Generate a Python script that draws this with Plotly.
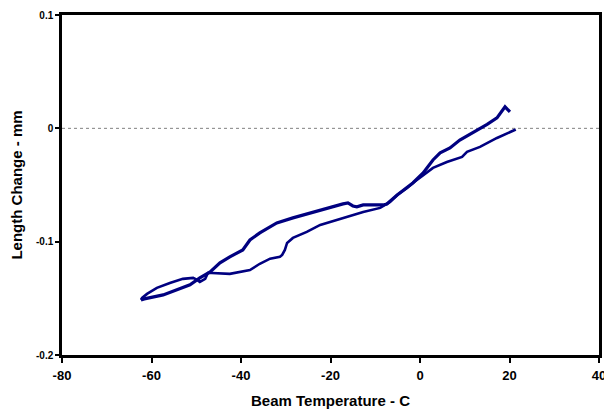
import plotly.graph_objects as go

# Cooling branch: from ~21 C down to the cold tip
cool_temp = [21.4, 17.2, 13.4, 10.5, 9.4, 6.0, 2.9, 0.7, -1.6, -2.9, -5.1, -6.7, -8.9,
             -12.7, -16.3, -20.1, -22.3, -25.3, -28.4, -29.7, -30.2, -30.8, -31.3,
             -33.5, -35.8, -38.0, -42.5, -46.5, -47.4, -48.0, -49.2, -49.8, -50.7,
             -53.0, -55.9, -58.8, -61.0, -62.1, -62.35]
cool_len = [-0.001, -0.0085, -0.0164, -0.0208, -0.0252, -0.0297, -0.0349, -0.0411,
            -0.0482, -0.0526, -0.0588, -0.0649, -0.0702,
            -0.0738, -0.0782, -0.0826, -0.0852, -0.0914, -0.0967, -0.1011, -0.1073,
            -0.1117, -0.1134, -0.1150, -0.1195, -0.1250, -0.1284, -0.1276, -0.1276,
            -0.1328, -0.1355, -0.1337, -0.1320, -0.1328, -0.1364, -0.1408, -0.1461,
            -0.1496, -0.1514]

# Warming branch: from the cold tip back up to ~20 C
warm_temp = [-62.35, -61.6, -57.4, -53.6, -51.4, -49.2, -46.9, -44.7, -42.5, -39.6,
             -38.0, -35.8, -32.0, -28.4, -24.6, -20.8, -17.2, -16.1, -15.0, -14.1,
             -12.7, -8.3, -7.4, -5.1, -2.9, -1.6, 0.7, 2.9, 4.5, 6.7, 8.9, 11.8,
             13.4, 15.0, 17.2, 19.0, 20.1]
warm_len = [-0.1514, -0.1505, -0.1470, -0.1417, -0.1381, -0.1320, -0.1267, -0.1187,
            -0.1134, -0.1073, -0.0985, -0.0923, -0.0835, -0.0790, -0.0746, -0.0702,
            -0.0667, -0.0658, -0.0685, -0.0693, -0.0676, -0.0676, -0.0667, -0.0588,
            -0.0526, -0.0482, -0.0394, -0.0279, -0.0217, -0.0173, -0.0103, -0.0041,
            0.0000, 0.0035, 0.0092, 0.0190, 0.0145]

x_ticks = [-80, -60, -40, -20, 0, 20, 40]
x_tick_text = ["-80", "-60", "-40", "-20", "0", "20", "40"]
y_ticks = [-0.2, -0.1, 0, 0.1]
y_tick_text = ["-0.2", "-0.1", "0", "0.1"]

NAVY = "#000080"
FONT = "Arial, Liberation Sans, sans-serif"

fig = go.Figure()
fig.add_trace(go.Scatter(x=cool_temp, y=cool_len, mode="lines",
                         line=dict(color=NAVY, width=2.6), showlegend=False))
fig.add_trace(go.Scatter(x=warm_temp, y=warm_len, mode="lines",
                         line=dict(color=NAVY, width=3.2), showlegend=False))

fig.add_shape(type="line", xref="paper", yref="y", x0=0, x1=1, y0=0, y1=0,
              line=dict(color="#808080", width=1, dash="dot"), layer="below")

fig.update_layout(
    width=604, height=413,
    margin=dict(l=62, r=5, t=15, b=58),
    paper_bgcolor="white", plot_bgcolor="white",
    font=dict(family=FONT, color="black"),
    showlegend=False,
)
fig.update_xaxes(
    range=[-80, 40], tickvals=x_ticks, ticktext=x_tick_text,
    automargin=False, ticklabeloverflow="allow",
    showgrid=False, zeroline=False,
    showline=True, mirror=True, linecolor="black", linewidth=2.5,
    ticks="outside", ticklen=5, tickwidth=2, tickcolor="black",
    ticklabelstandoff=2,
    tickfont=dict(size=13, weight="bold", family=FONT),
    title=dict(text="<b>Beam Temperature - C</b>", font=dict(size=15, family=FONT), standoff=14),
)
fig.update_yaxes(
    range=[-0.2, 0.1], tickvals=y_ticks, ticktext=y_tick_text,
    automargin=False,
    showgrid=False, zeroline=False,
    showline=True, mirror=True, linecolor="black", linewidth=2.5,
    ticks="outside", ticklen=4, tickwidth=2, tickcolor="black",
    tickfont=dict(size=10, weight="bold", family=FONT),
    title=dict(text="<b>Length Change - mm</b>", font=dict(size=15, family=FONT), standoff=10),
)

fig.write_html("out.html")
